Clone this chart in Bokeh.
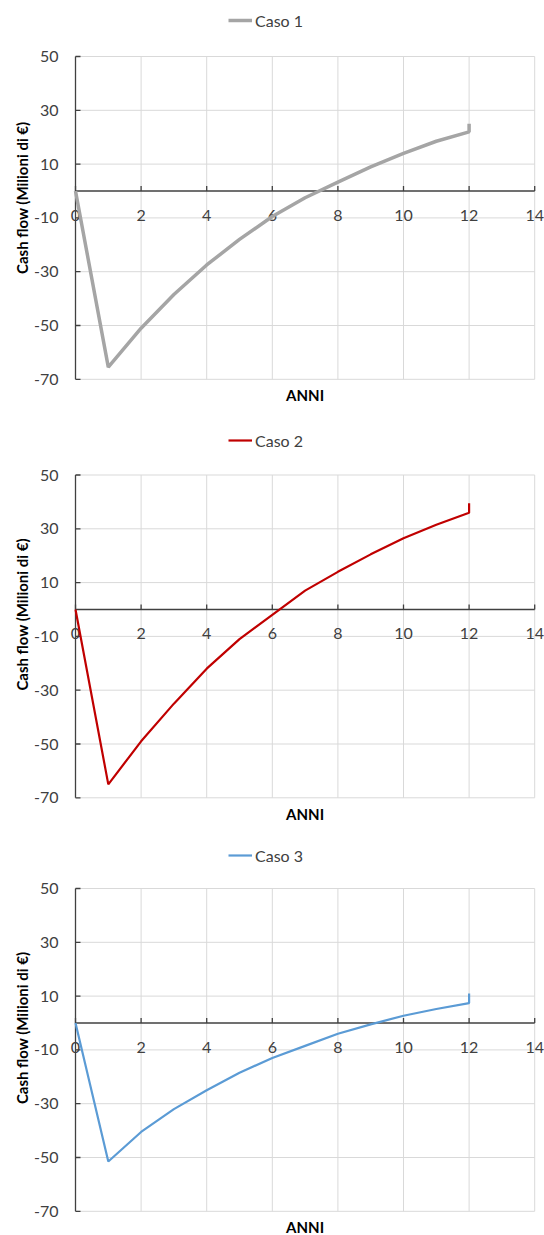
import math
from bokeh.plotting import figure
from bokeh.models import Legend, LegendItem, Range1d
from bokeh.core.properties import value
from bokeh.layouts import column
from bokeh.embed import file_html
from bokeh.resources import INLINE

# ---- data ----
anni = [0, 1, 2, 3, 4, 5, 6, 7, 8, 9, 10, 11, 12, 12]
caso1 = [0, -65.5, -51, -38.5, -27.5, -18, -9.5, -2.5, 3.3, 9, 14, 18.5, 22, 25]
caso2 = [0, -65, -49, -35, -22, -11, -2, 7, 14, 20.5, 26.5, 31.5, 36, 39.5]
caso3 = [0, -51.5, -40.5, -32, -25, -18.5, -13, -8.5, -4, -0.5, 2.7, 5.2, 7.4, 11]
serie = [caso1, caso2, caso3]
nomi = ["Caso 1", "Caso 2", "Caso 3"]
colori = ["#A5A5A5", "#C00000", "#5B9BD5"]
spessori = [3.5, 2.2, 2.2]
y_titoli = ["Cash flow  (Milioni di €)", "Cash flow (Milioni di €)", "Cash flow (Milioni di €)"]
x_titolo = "ANNI"
x_ticks = [0, 2, 4, 6, 8, 10, 12, 14]
y_ticks = [-70, -50, -30, -10, 10, 30, 50]

FONT = "Lato"
TXT = "#404040"
GRID = "#D9D9D9"

# pixel scales and layout
KX = 32.8      # px per year
KY = 2.69      # px per million
W = 544
LEFT = 75      # px from figure left to x = 0
# per chart: figure height, px from top to top of plot area, legend centre (px from top)
dims = [(417, 56, 20), (419, 57.5, 23), (399, 52, 19)]


def make(i):
    H, top, leg_c = dims[i]
    xmin, xmax = x_ticks[0], x_ticks[-1]
    ymin, ymax = y_ticks[0], y_ticks[-1]
    x_lo = xmin - LEFT / KX
    x_hi = x_lo + W / KX
    y_hi = ymax + top / KY
    y_lo = y_hi - H / KY
    p = figure(width=W, height=H, x_range=Range1d(x_lo, x_hi), y_range=Range1d(y_lo, y_hi),
               x_axis_location=None, y_axis_location=None,
               toolbar_location=None, output_backend="svg",
               min_border=0, min_border_left=0, min_border_right=0,
               min_border_top=0, min_border_bottom=0)
    p.grid.visible = False
    p.outline_line_color = None
    p.background_fill_color = "white"
    p.border_fill_color = "white"

    n, m = len(x_ticks), len(y_ticks)
    # gridlines
    p.segment(x0=x_ticks, y0=[ymin] * n, x1=x_ticks, y1=[ymax] * n,
              line_color=GRID, line_width=1)
    p.segment(x0=[xmin] * m, y0=y_ticks, x1=[xmax] * m, y1=y_ticks,
              line_color=GRID, line_width=1)

    # vertical axis at x = 0 with inward ticks
    p.segment(x0=[xmin], y0=[ymin], x1=[xmin], y1=[ymax], line_color=TXT, line_width=1.3)
    p.segment(x0=[xmin] * m, y0=y_ticks, x1=[xmin + 5 / KX] * m, y1=y_ticks,
              line_color=TXT, line_width=1.3)
    p.text(x=[xmin] * m, y=y_ticks, text=[str(t) for t in y_ticks],
           x_offset=-17, text_align="right", text_baseline="middle",
           text_font=value(FONT), text_font_size="16px", text_color=TXT)

    # horizontal axis crossing at y = 0, ticks pointing up, labels below
    p.segment(x0=[xmin], y0=[0], x1=[xmax], y1=[0], line_color=TXT, line_width=1.3)
    p.segment(x0=x_ticks, y0=[0] * n, x1=x_ticks, y1=[5 / KY] * n,
              line_color=TXT, line_width=1.3)
    p.text(x=x_ticks, y=[0] * n, text=[str(t) for t in x_ticks],
           y_offset=24, text_align="center", text_baseline="middle",
           text_font=value(FONT), text_font_size="16px", text_color=TXT)

    # data
    r = p.line(anni, serie[i], line_color=colori[i], line_width=spessori[i])

    leg = Legend(items=[LegendItem(label=nomi[i], renderers=[r])],
                 location=(228, H - leg_c - 10),
                 border_line_color=None, background_fill_alpha=0,
                 padding=0, margin=0, spacing=0, label_standoff=3,
                 glyph_width=24, glyph_height=20, label_height=20,
                 label_text_font=FONT, label_text_font_size="16px", label_text_color=TXT)
    p.add_layout(leg, "center")

    # axis titles
    p.text(x=[(xmin + xmax) / 2], y=[ymin], text=[x_titolo], y_offset=16,
           text_align="center", text_baseline="middle",
           text_font=value(FONT), text_font_size="15px", text_font_style="bold",
           text_color="black")
    p.text(x=[xmin], y=[(ymin + ymax) / 2], text=[y_titoli[i]],
           x_offset=-54, y_offset=-22, angle=math.pi / 2,
           text_align="center", text_baseline="middle",
           text_font=value(FONT), text_font_size="15px", text_font_style="bold",
           text_color="black")
    return p


page = column(make(0), make(1), make(2), spacing=0)
open("out.html", "w").write(file_html(page, INLINE))
